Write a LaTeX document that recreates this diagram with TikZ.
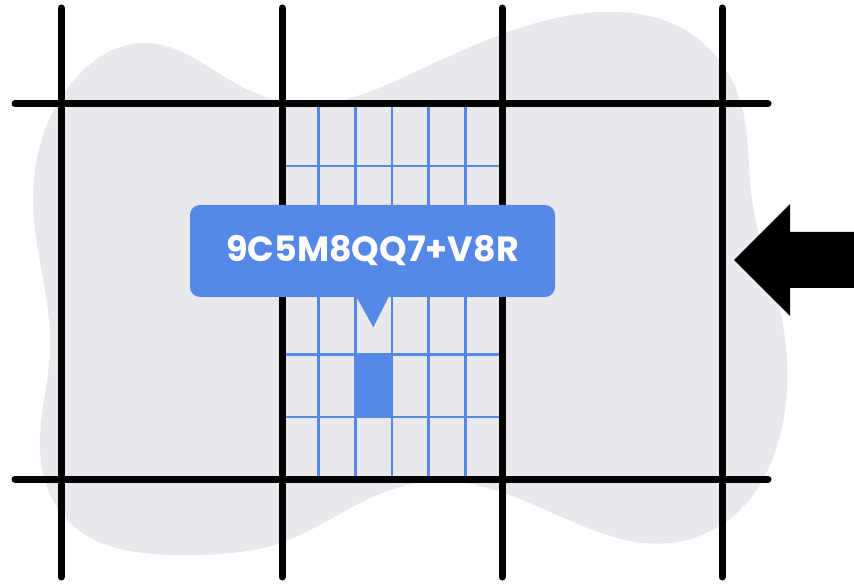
\documentclass[tikz,border=0pt]{standalone}
\usepackage{fontspec}
\setmainfont{Poppins}
\usetikzlibrary{hobby}
\definecolor{pinblue}{RGB}{86,136,232}
\definecolor{blobgray}{RGB}{232,233,237}

\begin{document}
\begin{tikzpicture}[x=1pt, y=-1pt,
    road/.style={line width=7pt, line cap=round},
    subgrid/.style={pinblue, line width=2.5pt},
    codebox/.style={fill=pinblue, rounded corners=10pt, minimum width=365pt, minimum height=92pt,
        text=white, font=\bfseries\fontsize{35}{42}\selectfont}]
    \useasboundingbox (0,0) rectangle (854,585);
    % background blob
    \fill[blobgray, use Hobby shortcut, closed=true] (145,43) .. (235,83) .. (300,104) .. (413,73) .. (500,35)
        .. (600,12) .. (690,33) .. (740,100) .. (752,200) .. (782,320) .. (782,427) .. (740,510) .. (670,543)
        .. (580,525) .. (470,484) .. (400,487) .. (280,543) .. (183,555) .. (67,520) .. (40,447) .. (50,350)
        .. (33,200) .. (70,85);
    % fine grid in the middle cell
    \foreach \i in {1,...,5}
        \draw[subgrid] ({282+\i*220/6},103) -- ({282+\i*220/6},480);
    \foreach \j in {1,...,5}
        \draw[subgrid] (282,{103+\j*377/6}) -- (502,{103+\j*377/6});
    \fill[pinblue] ({282+2*220/6},{103+4*377/6}) rectangle ({282+3*220/6},{103+5*377/6});
    % coarse grid
    \foreach \x in {61,282,502,722}
        \draw[road] (\x,8) -- (\x,577);
    \foreach \y in {104,479}
        \draw[road] (15,\y) -- (768,\y);
    % label with pointer
    \node[codebox] (code) at (372.5,251) {9C5M8QQ7+V8R};
    \fill[pinblue] ([xshift=-16.5pt, yshift=1pt]code.south) -- ([xshift=16.5pt, yshift=1pt]code.south)
        -- ([xshift=0.8pt, yshift=-30pt]code.south) -- cycle;
    % arrow
    \fill (734,260) -- (790,204) -- (790,232) -- (854,232) -- (854,288) -- (790,288) -- (790,316) -- cycle;
\end{tikzpicture}
\end{document}
